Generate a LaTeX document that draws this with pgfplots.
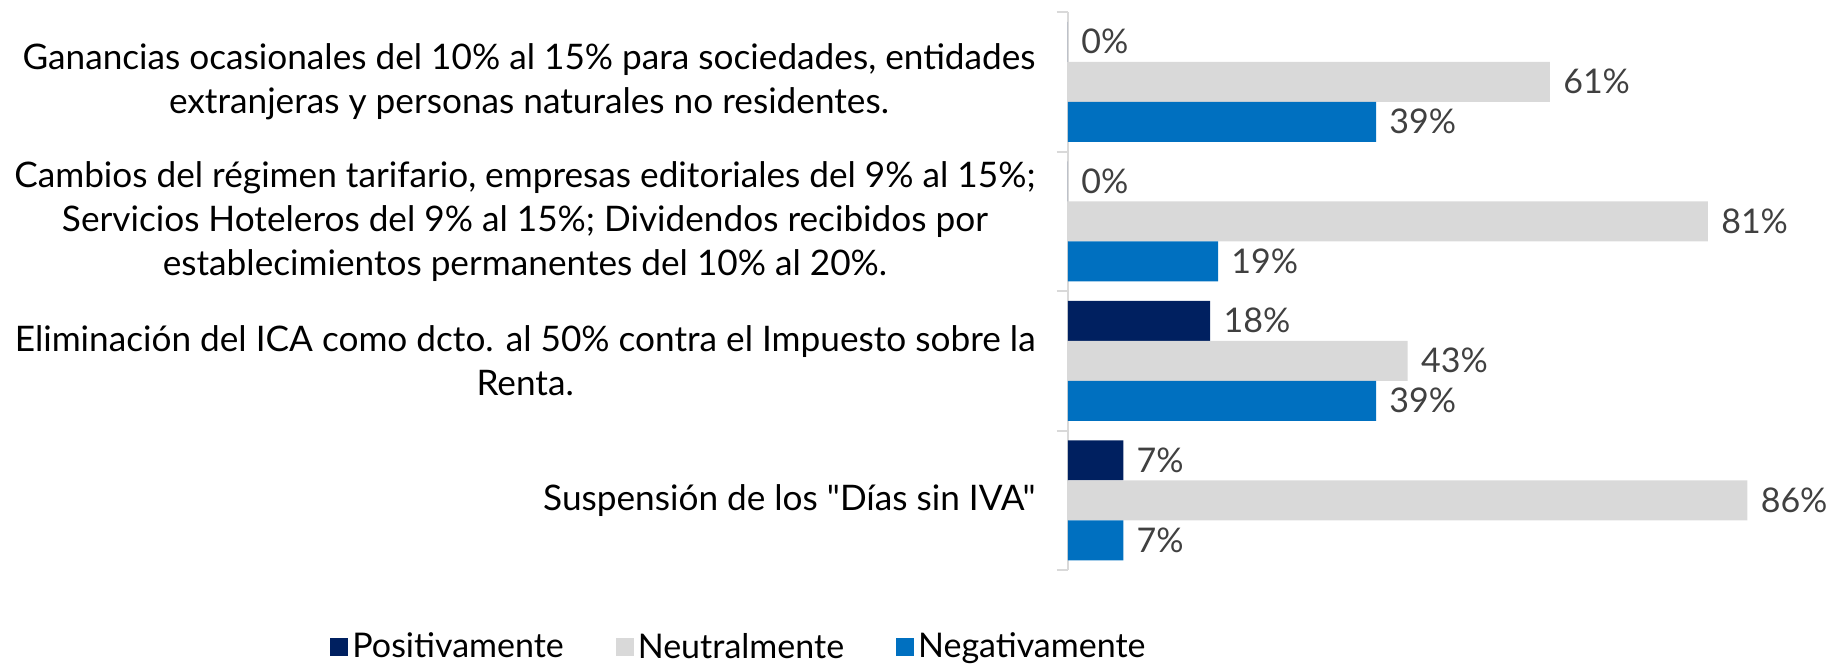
\documentclass[border=0pt]{standalone}
\usepackage{pgfplots}
\pgfplotsset{compat=1.18}
\usepackage{fontspec}
\setmainfont{Lato}[Ligatures=TeXOff]
\definecolor{cpos}{HTML}{002060}
\definecolor{cneu}{HTML}{D9D9D9}
\definecolor{cneg}{HTML}{0070C0}
\definecolor{lblgray}{HTML}{404040}
\definecolor{axgray}{HTML}{D9D9D9}
\begin{document}
\begin{tikzpicture}
\useasboundingbox (-534pt,-47.5pt) rectangle (380.5pt,285pt);
\begin{axis}[
  scale only axis,
  width=379.2pt, height=279pt,
  xmin=0, xmax=96,
  ymin=-0.5, ymax=3.5,
  xbar, bar width=20pt,
  axis x line=none,
  axis y line*=left,
  y axis line style={draw=axgray, line width=1pt},
  xtick=\empty,
  ytick={0,1,2,3},
  yticklabels={
    {Suspensión de los "Días sin IVA"},
    {Eliminación del ICA como dcto. al 50\% contra el Impuesto sobre la\\Renta.},
    {Cambios del régimen tarifario, empresas editoriales del 9\% al 15\%;\\Servicios Hoteleros del 9\% al 15\%; Dividendos recibidos por\\establecimientos permanentes del 10\% al 20\%.},
    {Ganancias ocasionales del 10\% al 15\% para sociedades, entidades\\extranjeras y personas naturales no residentes.}
  },
  yticklabel style={align=center, font=\fontsize{17.6}{22}\selectfont, text=black, anchor=east, inner sep=0pt, xshift=-16pt},
  minor ytick={-0.5,0.5,1.5,2.5,3.5},
  major tick length=0pt,
  minor tick length=5.5pt,
  tick align=outside,
  minor tick style={draw=axgray, line width=1pt},
  nodes near coords={\pgfplotspointmeta\%},
  nodes near coords style={anchor=west, inner sep=0pt, xshift=6.5pt, font=\fontsize{17}{20}\selectfont, text=lblgray},
  point meta=explicit symbolic,
  legend columns=3,
  legend style={at={(-0.4325,-0.138)}, anchor=center, draw=none, fill=none,
    font=\fontsize{17}{20}\selectfont,
    /tikz/every even column/.append style={column sep=24pt},
    nodes={inner sep=2pt}},
  legend cell align=left,
  legend image code/.code={\fill[#1] (0pt,-4.5pt) rectangle (9pt,4.5pt);},
  clip=false,
]
\addplot[fill=cpos, draw=none, bar shift=20pt] coordinates {(0,3) [0] (0,2) [0] (18,1) [18] (7,0) [7]};
\addplot[fill=cneu, draw=none, bar shift=0pt] coordinates {(61,3) [61] (81,2) [81] (43,1) [43] (86,0) [86]};
\addplot[fill=cneg, draw=none, bar shift=-20pt] coordinates {(39,3) [39] (19,2) [19] (39,1) [39] (7,0) [7]};
\legend{Positivamente,Neutralmente,Negativamente}
\end{axis}
\end{tikzpicture}
\end{document}
